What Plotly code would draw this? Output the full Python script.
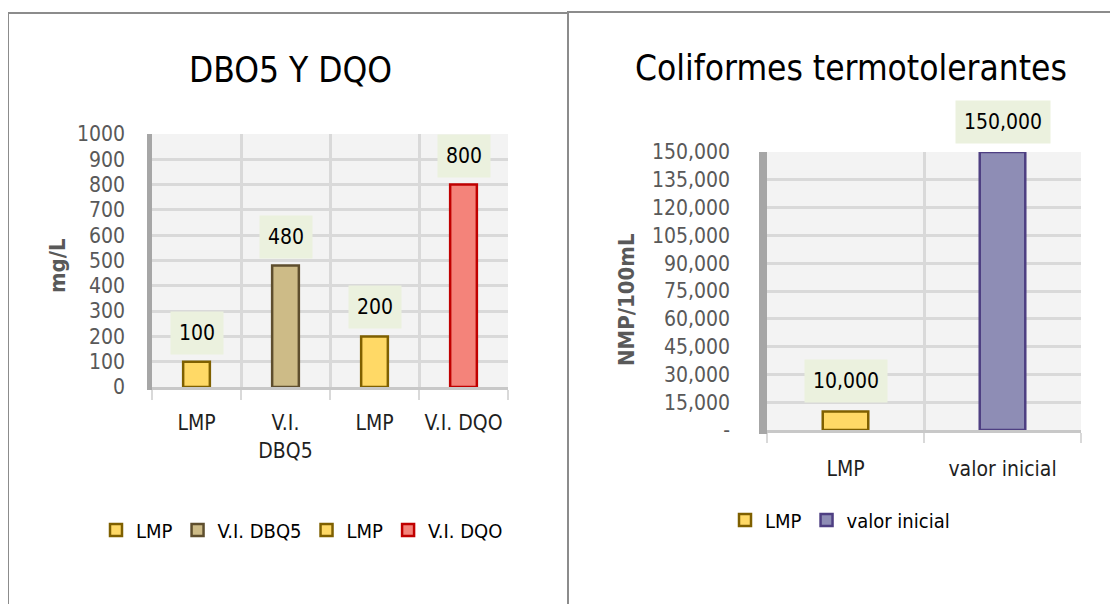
import plotly.graph_objects as go

# ---- data ----
left_title = "DBO5 Y DQO"
left_names = ["LMP", "V.I. DBQ5", "LMP", "V.I. DQO"]
left_ticklabels = ["LMP", "V.I.<br>DBQ5", "LMP", "V.I. DQO"]
left_values = [100, 480, 200, 800]
left_yticks = [0, 100, 200, 300, 400, 500, 600, 700, 800, 900, 1000]
left_ytitle = "mg/L"

right_title = "Coliformes termotolerantes"
right_names = ["LMP", "valor inicial"]
right_values = [10000, 150000]
right_yticks = [0, 15000, 30000, 45000, 60000, 75000, 90000, 105000, 120000, 135000, 150000]
right_yticktext = ["-"] + [f"{v:,}" for v in right_yticks[1:]]
right_ytitle = "NMP/100mL"

left_fill = ["#FFD966", "#CDBB87", "#FFD966", "#F4837A"]
left_line = ["#7F6000", "#5E4E2E", "#7F6000", "#C00000"]
right_fill = ["#FFD966", "#8E8DB5"]
right_line = ["#7F6000", "#4E3F82"]

FONT = "DejaVu Sans Condensed, Liberation Sans Narrow, sans-serif"
# page body has an 8px margin; size the figure so the page is exactly 1118x604
OFF = 8
W, H = 1118 - OFF, 604 - OFF


def px_x(p):
    return (p - OFF) / W


def px_y(p):
    return 1 - (p - OFF) / H


fig = go.Figure()

for i, (n, v) in enumerate(zip(left_names, left_values)):
    fig.add_trace(go.Bar(
        x=[i], y=[v], name=n, width=0.3,
        marker=dict(color=left_fill[i], line=dict(color=left_line[i], width=2.5)),
        xaxis="x", yaxis="y", legend="legend", hoverinfo="skip",
    ))
    fig.add_annotation(x=i, y=v, xref="x", yref="y", text=str(v), showarrow=False,
                       xanchor="center", yanchor="middle",
                       yshift=29, bgcolor="#EBF1DE", borderpad=8, height=26,
                       font=dict(family=FONT, size=21, color="#000"))

for i, (n, v) in enumerate(zip(right_names, right_values)):
    fig.add_annotation(x=i, y=v, xref="x2", yref="y2", text=f"{v:,}", showarrow=False,
                       xanchor="center", yanchor="middle",
                       yshift=30, bgcolor="#EBF1DE", borderpad=8, height=26,
                       font=dict(family=FONT, size=21, color="#000"))
    fig.add_trace(go.Bar(
        x=[i], y=[v], name=n, width=0.29,
        marker=dict(color=right_fill[i], line=dict(color=right_line[i], width=2.5)),
        xaxis="x2", yaxis="y2", legend="legend2", hoverinfo="skip",
    ))

tickfont = dict(family=FONT, size=21, color="#595959")
catfont = dict(family=FONT, size=21, color="#1F1F1F")
minor = dict(tick0=-0.5, dtick=1, showgrid=True, gridcolor="#D9D9D9",
             gridwidth=2.5, ticks="outside", ticklen=10, tickcolor="#D9D9D9", tickwidth=2)

fig.update_layout(
    template="none",
    width=W, height=H, margin=dict(l=0, r=0, t=0, b=0, autoexpand=False),
    paper_bgcolor="white", plot_bgcolor="#F3F3F3",
    barmode="overlay", font=dict(family=FONT, color="#595959"),
    xaxis=dict(domain=[px_x(152), px_x(508)], range=[-0.5, 3.5],
               tickvals=list(range(len(left_names))), ticktext=left_ticklabels,
               showgrid=False, ticks="", anchor="y", automargin=False, zeroline=False,
               showline=True, linecolor="#C8C8C8", linewidth=3,
               ticklabelstandoff=15, tickfont=catfont, minor=minor),
    yaxis=dict(domain=[px_y(387), px_y(134)], range=[0, 1000], tickvals=left_yticks,
               showgrid=True, gridcolor="#D9D9D9", gridwidth=2.5, anchor="x",
               automargin=False, zeroline=False, showline=False, ticks="",
               ticklabelstandoff=26, tickfont=tickfont),
    xaxis2=dict(domain=[px_x(767), px_x(1081)], range=[-0.5, 1.5],
                tickvals=list(range(len(right_names))), ticktext=right_names,
                showgrid=False, ticks="", anchor="y2", automargin=False, zeroline=False,
                showline=True, linecolor="#C8C8C8", linewidth=3,
                ticklabelstandoff=18, tickfont=catfont, minor=minor),
    yaxis2=dict(domain=[px_y(430), px_y(152)], range=[0, 150000], tickvals=right_yticks,
                ticktext=right_yticktext,
                showgrid=True, gridcolor="#D9D9D9", gridwidth=2.5, anchor="x2",
                automargin=False, zeroline=False, showline=False, ticks="",
                ticklabelstandoff=36, tickfont=tickfont),
    legend=dict(orientation="h", x=px_x(302), xanchor="center", y=px_y(530), yanchor="middle",
                font=dict(family=FONT, size=20, color="#000"), bgcolor="rgba(0,0,0,0)",
                itemwidth=30, traceorder="normal"),
    legend2=dict(orientation="h", x=px_x(840), xanchor="center", y=px_y(520), yanchor="middle",
                 font=dict(family=FONT, size=20, color="#000"), bgcolor="rgba(0,0,0,0)",
                 itemwidth=30, traceorder="normal"),
)

fig.add_annotation(text=left_title, xref="paper", yref="paper", x=px_x(290), y=px_y(70),
                   xanchor="center", yanchor="middle", showarrow=False,
                   font=dict(family=FONT, size=35, color="#000"))
fig.add_annotation(text=right_title, xref="paper", yref="paper", x=px_x(851), y=px_y(68),
                   xanchor="center", yanchor="middle", showarrow=False,
                   font=dict(family=FONT, size=35, color="#000"))
fig.add_annotation(text=f"<b>{left_ytitle}</b>", xref="paper", yref="paper",
                   x=px_x(57), y=px_y(266), xanchor="center", yanchor="middle",
                   textangle=-90, showarrow=False,
                   font=dict(family=FONT, size=22, color="#595959"))
fig.add_annotation(text=f"<b>{right_ytitle}</b>", xref="paper", yref="paper",
                   x=px_x(626), y=px_y(300), xanchor="center", yanchor="middle",
                   textangle=-90, showarrow=False,
                   font=dict(family=FONT, size=22, color="#595959"))

# panel borders
fig.add_shape(type="rect", xref="paper", yref="paper", x0=px_x(8), x1=px_x(568),
              y0=px_y(640), y1=px_y(13), line=dict(color="#8C8C8C", width=2))
fig.add_shape(type="rect", xref="paper", yref="paper", x0=px_x(568), x1=px_x(1140),
              y0=px_y(640), y1=px_y(12), line=dict(color="#8C8C8C", width=2))
# 3D side walls
fig.add_shape(type="rect", xref="paper", yref="paper", x0=px_x(147), x1=px_x(152),
              y0=px_y(390), y1=px_y(134), line=dict(width=0), fillcolor="#A6A6A6")
fig.add_shape(type="rect", xref="paper", yref="paper", x0=px_x(759), x1=px_x(767),
              y0=px_y(434), y1=px_y(152), line=dict(width=0), fillcolor="#A6A6A6")

fig.write_html("out.html")
